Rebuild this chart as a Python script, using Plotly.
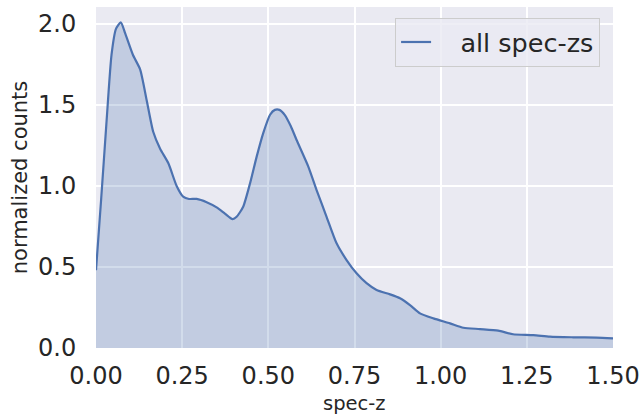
import plotly.graph_objects as go

z_vals = [0.0, 0.015, 0.03, 0.045, 0.058, 0.072, 0.085, 0.107, 0.128, 0.147, 0.166, 0.186,
          0.21, 0.234, 0.253, 0.27, 0.292, 0.321, 0.35, 0.374, 0.396, 0.408, 0.427, 0.447,
          0.466, 0.485, 0.505, 0.519, 0.532, 0.548, 0.565, 0.582, 0.616, 0.640, 0.669,
          0.698, 0.727, 0.756, 0.785, 0.814, 0.853, 0.882, 0.911, 0.94, 0.979, 1.027,
          1.066, 1.114, 1.167, 1.21, 1.269, 1.317, 1.385, 1.452, 1.5]
density = [0.48, 0.92, 1.38, 1.81, 1.97, 2.01, 1.94, 1.81, 1.72, 1.53, 1.335, 1.23,
           1.14, 1.0, 0.934, 0.92, 0.92, 0.90, 0.868, 0.83, 0.796, 0.81, 0.872, 1.017,
           1.18, 1.325, 1.44, 1.47, 1.47, 1.438, 1.37, 1.284, 1.12, 0.975, 0.81,
           0.646, 0.543, 0.461, 0.40, 0.358, 0.331, 0.307, 0.265, 0.214, 0.183, 0.152,
           0.125, 0.117, 0.107, 0.085, 0.08, 0.07, 0.066, 0.064, 0.06]

x_ticks = [0.0, 0.25, 0.5, 0.75, 1.0, 1.25, 1.5]
x_tick_text = ["0.00", "0.25", "0.50", "0.75", "1.00", "1.25", "1.50"]
y_ticks = [0.0, 0.5, 1.0, 1.5, 2.0]
y_tick_text = ["0.0", "0.5", "1.0", "1.5", "2.0"]

fig = go.Figure()
fig.add_trace(go.Scatter(
    x=z_vals, y=density, mode="lines", showlegend=False, hoverinfo="skip",
    line=dict(color="rgba(0,0,0,0)", width=0, shape="spline", smoothing=0.6),
    fill="tozeroy", fillcolor="rgba(76,114,176,0.25)",
))
fig.add_trace(go.Scatter(
    x=z_vals, y=density, mode="lines", name="\u00a0\u00a0\u00a0all spec-zs",
    line=dict(color="#4c72b0", width=2.2, shape="spline", smoothing=0.6),
))

fig.add_annotation(
    text="spec-z", xref="paper", yref="paper", x=0.5, y=0,
    xanchor="center", yanchor="top", yshift=-42, showarrow=False,
    font=dict(size=19.5, color="#262626"),
)

fig.update_layout(
    width=643, height=414,
    margin=dict(l=96, r=30, t=7, b=66),
    paper_bgcolor="white", plot_bgcolor="#eaeaf2",
    font=dict(family="DejaVu Sans", color="#262626"),
    showlegend=True,
    legend=dict(
        x=0.975, y=0.968, xanchor="right", yanchor="top",
        bgcolor="rgba(234,234,242,0.8)", bordercolor="#cccccc", borderwidth=1,
        font=dict(size=25.5, color="#262626"),
    ),
    xaxis=dict(
        range=[0, 1.5], tickvals=x_ticks, ticktext=x_tick_text, automargin=False,
        showgrid=True, gridcolor="white", gridwidth=1.5, zeroline=False,
        showline=False, ticks="outside", ticklen=6, tickcolor="rgba(0,0,0,0)",
        tickfont=dict(size=24),
    ),
    yaxis=dict(
        range=[0, 2.105], tickvals=y_ticks, ticktext=y_tick_text, automargin=False,
        showgrid=True, gridcolor="white", gridwidth=1.5, zeroline=False,
        showline=False, ticks="outside", ticklen=14, tickcolor="rgba(0,0,0,0)",
        tickfont=dict(size=24),
        title=dict(text="normalized counts", font=dict(size=21), standoff=4),
    ),
)

fig.write_html("out.html")
